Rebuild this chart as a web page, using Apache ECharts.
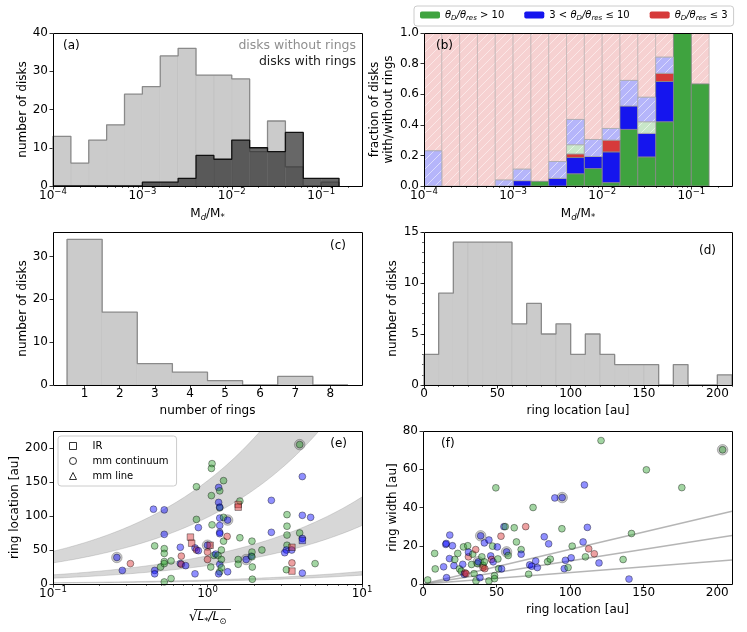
<!DOCTYPE html>
<html><head><meta charset="utf-8">
<script src="https://cdn.jsdelivr.net/npm/echarts@6/dist/echarts.min.js"></script>
<style>html,body{margin:0;padding:0;background:#fff}#c{width:747px;height:632px}</style>
</head><body><div id="c"></div>
<script>
// ================= DATA =================
// (a)/(b): bins in log10(Md/M*) (0.2 dex)
const massBinEdgesLog = [-4,-3.8,-3.6,-3.4,-3.2,-3,-2.8,-2.6,-2.4,-2.2,-2,-1.8,-1.6,-1.4,-1.2,-1,-0.8];
const disksWithoutRings = [13,6,12,16,24,26,34,36,29,29,28,9,17,5,0,1];
const disksWithRings    = [0,0,0,0,0,1,1,2,8,7,12,10,9,14,2,2];
// (b): stacked fractions per bin
const fracGreen      = [0,0,0,0,0,0,0.03,0,0.08,0.114,0.022,0.37,0.19,0.42,1.0,0.667];
const fracBlue       = [0,0,0,0,0,0.035,0,0.05,0.106,0.079,0.201,0.153,0.154,0.263,0,0];
const fracRed        = [0,0,0,0,0,0,0,0,0.024,0,0.077,0,0,0.054,0,0];
const fracGreenFaint = [0,0,0,0,0,0,0,0,0.06,0,0,0,0.076,0,0,0];
const fracBlueFaint  = [0.23,0,0,0,0.039,0.075,0,0.11,0.165,0.111,0.076,0.167,0.16,0.105,0,0];
// (c)
const ringNumbers = [1,2,3,4,5,6,7,8];
const disksPerRingNumber = [34,17,5,3,1,0,2,0];
// (d)
const ringLocEdges = [0,10,20,30,40,50,60,70,80,90,100,110,120,130,140,150,160,170,180,190,200,210];
const ringLocCounts = [3,9,14,14,14,14,6,8,5,6,3,5,3,2,2,2,0,2,0,0,1];
// (e): [sqrt(L*/Lsun), ring location au, tracer colour, marker (c=circle,s=square), highlighted]
const panelE = [
 [0.259,39,'b','c',1],[0.281,20,'b','c',0],[0.317,30,'r','c',0],[0.447,110,'b','c',0],[0.455,56,'g','c',0],
 [0.455,20,'b','c',0],[0.455,15,'b','c',0],[0.497,25,'g','c',0],[0.525,109,'b','c',0],[0.525,73,'b','c',0],
 [0.525,52,'g','c',0],[0.525,45,'g','c',0],[0.525,33,'g','c',0],[0.525,30,'g','c',0],[0.525,3,'g','c',0],
 [0.581,34,'g','c',0],[0.581,8,'g','c',0],[0.667,54,'b','c',0],[0.667,30,'b','c',0],[0.677,41,'r','c',0],
 [0.677,29,'r','c',0],[0.722,27,'b','c',0],[0.83,15,'b','c',0],[0.848,143,'g','c',0],[0.848,95,'g','c',0],
 [0.775,69,'r','s',0],[0.79,60,'r','s',0],[0.83,53,'b','c',0],[0.848,50,'r','c',0],[0.873,49,'b','c',0],
 [0.873,83,'b','c',0],[1.0,57,'b','c',1],[1.0,36,'r','c',0],[1.0,47,'r','c',0],[1.04,57,'r','s',0],
 [1.05,25,'g','c',0],[1.07,177,'g','c',0],[1.06,170,'g','c',0],[1.06,130,'g','c',0],[1.07,87,'g','c',0],
 [1.1,42,'g','c',0],[1.13,44,'b','c',0],[1.17,42,'g','c',0],[1.18,142,'b','c',0],[1.2,137,'g','c',0],
 [1.18,120,'b','c',0],[1.2,112,'g','c',0],[1.2,113,'b','c',0],[1.2,97,'b','c',0],[1.2,86,'b','c',0],
 [1.2,76,'b','c',0],[1.2,74,'b','c',0],[1.23,50,'g','c',0],[1.2,29,'b','c',0],[1.2,18,'g','c',0],
 [1.18,15,'b','c',0],[1.23,24,'g','c',0],[1.23,36,'g','c',0],[1.27,152,'g','c',0],[1.27,98,'g','c',0],
 [1.27,63,'g','c',0],[1.35,94,'b','c',1],[1.34,70,'r','c',0],[1.35,18,'b','c',0],[1.62,122,'g','c',0],
 [1.58,117,'r','s',0],[1.58,113,'r','s',0],[1.62,68,'g','c',0],[1.58,36,'g','c',0],[1.58,29,'g','c',0],
 [1.78,36,'b','c',1],[1.92,41,'b','c',0],[1.94,63,'g','c',0],[1.94,47,'g','c',0],[1.94,40,'g','c',0],
 [1.95,25,'g','c',0],[1.95,7,'g','c',0],[2.25,50,'g','c',0],[2.59,123,'b','c',0],[2.59,76,'b','c',0],
 [3.27,102,'g','c',0],[3.27,85,'g','c',0],[3.27,72,'g','c',0],[3.27,57,'g','c',0],[3.24,50,'b','c',0],
 [3.16,46,'b','c',0],[3.24,21,'g','c',0],[3.52,54,'r','s',0],[3.52,31,'r','c',0],[3.52,19,'r','s',0],
 [3.51,50,'b','c',0],[3.95,205,'g','c',1],[3.95,75,'g','c',0],[4.11,158,'b','c',0],[4.11,101,'b','c',0],
 [4.11,67,'b','c',0],[4.11,64,'b','s',0],[4.11,16,'b','c',0],[4.65,98,'b','c',0],[4.97,30,'g','c',0]
];
// (e) grey bands: edge values at sqrt(L)=0.1 and sqrt(L)=10 [lower, upper]
const bandsAt01 = [[31,48],[8.5,13.5],[1.3,1.9]];
const bandsAt10 = [[310,480],[86,128],[13,18.5]];
// (f): [ring location au, ring width au, tracer colour, highlighted]
const panelF = [
 [3.2,2.1,'g',0],[7.9,16,'g',0],[8.3,7.9,'g',0],[14,9,'b',0],[15.5,20.7,'b',0],[15.8,21.2,'b',0],[16,3.3,'b',0],
 [18,13.3,'b',0],[18.2,25.6,'b',0],[20,20,'b',0],[21,9.6,'b',0],[21.6,12.8,'g',0],[23.6,16,'g',0],[24.8,7.9,'g',0],
 [26,6.7,'g',0],[27,10.3,'b',0],[27.5,19.4,'g',0],[28,5.1,'b',0],[28.6,5.8,'r',0],[29.3,5.4,'r',0],[30.4,20,'g',0],
 [30.9,14.2,'r',0],[30.9,16.6,'b',0],[33,10.2,'g',0],[33.8,15.6,'g',0],[34.7,5.4,'g',0],[35.8,18,'r',0],[36,1.6,'g',0],
 [37,10.7,'g',0],[37.6,11.6,'b',1],[38.7,3.3,'b',0],[39.2,25.2,'b',1],[40,14.2,'g',0],[40.8,9.8,'g',0],[40.8,8.6,'r',0],
 [41.7,21.5,'b',0],[41.7,11.6,'g',0],[42,8,'r',0],[44.8,23,'b',0],[44.8,1.6,'g',0],[46,14.7,'b',0],[46.6,12.8,'r',0],
 [47.3,19.8,'g',0],[47.7,11.6,'b',0],[48.6,4.4,'g',0],[48.6,2.8,'g',0],[49.5,50.3,'g',0],[50.5,19.4,'b',0],[50.9,13.1,'g',0],
 [51.4,8,'g',0],[53,25,'r',0],[53.4,7.9,'b',0],[55,30,'b',0],[55.9,30,'g',0],[56.8,16.8,'b',1],[57.9,14.9,'g',0],
 [62,29.4,'g',0],[63.5,22,'g',0],[66.7,18,'g',0],[66.7,15.6,'b',0],[69.8,30,'r',0],[71.8,5.1,'g',0],[72.5,10,'b',0],
 [73.9,9.3,'b',0],[74.8,40,'g',0],[76.6,12,'b',0],[77.7,8.6,'b',0],[82.4,24.7,'b',0],[84.7,11.7,'g',0],[85.4,21,'b',0],
 [86.5,13,'g',0],[89.6,45,'b',0],[94.4,28.9,'g',0],[94.6,45.2,'b',1],[96,8,'b',0],[96.8,12.4,'b',0],[98.6,8.6,'g',0],
 [100.7,13.7,'b',0],[101.4,19.8,'g',0],[108.8,22,'b',0],[109.7,51.8,'b',0],[110.4,14.2,'g',0],[111.7,29.6,'b',0],
 [112.6,18.4,'r',0],[116.4,15.8,'r',0],[119.6,11,'b',0],[121,75,'g',0],[136,12.8,'g',0],[140,2.6,'b',0],[141.7,26.4,'g',0],
 [151.8,59.7,'g',0],[175.9,50.4,'g',0],[203.6,70.2,'g',1]
];
// (f) reference lines through origin: width at ring location 210 au
const fLineX = 210;
const fLineEndY = [38, 25.3, 12.6];
// tick labels
const massTicks = [-4,-3,-2,-1];
const lumTicks = [-1,0,1];

// ================= HELPERS =================
const FONT = 'DejaVu Sans';
const TICK = 12, LAB = 12;
const G = [
  {left:53, top:33, width:309, height:153},
  {left:424, top:33, width:308, height:153},
  {left:53, top:232, width:309, height:153},
  {left:424, top:232, width:308, height:153},
  {left:53, top:431, width:309, height:153},
  {left:423, top:431, width:309, height:153}
];
const logMinor = (lo, hi) => { const r=[]; for (let n=Math.floor(lo); n<hi; n++) for (let k=2;k<10;k++){const v=n+Math.log10(k); if(v>lo&&v<hi) r.push(v);} return r; };
const range = (a,b,s) => { const r=[]; for(let v=a; v<=b+1e-9; v+=s) r.push(+v.toFixed(6)); return r; };
const fmtLog = v => '{b|10}{s|' + (v<0?'\u2212':'') + Math.abs(Math.round(v)) + '}';
const richLog = {
  b:{fontSize:TICK, fontFamily:FONT, color:'#000', lineHeight:18},
  s:{fontSize:8.5, fontFamily:FONT, color:'#000', verticalAlign:'top', lineHeight:10}
};
const nameStyle = {fontFamily:FONT, fontSize:LAB, color:'#000'};
function xAx(gi, min, max, ticks, opts) {
  opts = opts || {};
  const lab = {show:true, customValues:ticks, color:'#000', fontFamily:FONT, fontSize:TICK, margin:opts.fmt===fmtLog?1:3};
  if (opts.fmt) lab.formatter = opts.fmt;
  if (opts.fmt===fmtLog) lab.rich = richLog;
  return Object.assign({
    gridIndex:gi, type:'value', min, max, position:'bottom',
    axisLine:{show:false, onZero:false}, splitLine:{show:false},
    axisTick:{show:true, customValues:ticks, length:3.5, lineStyle:{color:'#000', width:0.8}},
    axisLabel:lab,
    nameLocation:'middle', nameTextStyle:nameStyle
  }, opts.extra || {});
}
function yAx(gi, min, max, ticks, opts) {
  opts = opts || {};
  const lab = {show:true, customValues:ticks, color:'#000', fontFamily:FONT, fontSize:TICK, margin:5};
  if (opts.fmt) lab.formatter = opts.fmt;
  return Object.assign({
    gridIndex:gi, type:'value', min, max, position:'left',
    axisLine:{show:false, onZero:false}, splitLine:{show:false},
    axisTick:{show:true, customValues:ticks, length:3.5, lineStyle:{color:'#000', width:0.8}},
    axisLabel:lab,
    nameLocation:'middle', nameRotate:90, nameTextStyle:nameStyle
  }, opts.extra || {});
}
function minorX(gi, min, max, ticks) {
  return {gridIndex:gi, type:'value', min, max, position:'bottom', axisLine:{show:false, onZero:false}, splitLine:{show:false},
    axisLabel:{show:false}, axisTick:{show:true, customValues:ticks, length:2, lineStyle:{color:'#000', width:0.6}}};
}
function minorY(gi, min, max, ticks) {
  return {gridIndex:gi, type:'value', min, max, position:'left', axisLine:{show:false, onZero:false}, splitLine:{show:false},
    axisLabel:{show:false}, axisTick:{show:true, customValues:ticks, length:2, lineStyle:{color:'#000', width:0.6}}};
}
function histSeries(xi, yi, edges, counts, fill, z) {
  const data = counts.map((c,i)=>[edges[i], edges[i+1], c]);
  return {type:'custom', xAxisIndex:xi, yAxisIndex:yi, z:z||2, silent:true, clip:true, data,
    renderItem:(p, api)=>{
      const a=api.coord([api.value(0),0]), b=api.coord([api.value(1),api.value(2)]);
      return {type:'rect', shape:{x:a[0], y:b[1], width:b[0]-a[0], height:a[1]-b[1]},
        style:{fill:fill, stroke:'rgba(0,0,0,0.06)', lineWidth:0.8}};
    }};
}
function stepSeries(xi, yi, edges, counts, color, z) {
  const pts=[[edges[0],0]];
  counts.forEach((c,i)=>{pts.push([edges[i],c]); pts.push([edges[i+1],c]);});
  pts.push([edges[edges.length-1],0]);
  return {type:'line', xAxisIndex:xi, yAxisIndex:yi, z:z||3, data:pts, showSymbol:false, symbol:'none', silent:true,
    lineStyle:{color, width:1.3}, clip:true};
}
function hatch(bg, line) {
  const s=9, cv=document.createElement('canvas'); cv.width=s; cv.height=s;
  const c=cv.getContext('2d'); c.fillStyle=bg; c.fillRect(0,0,s,s);
  c.strokeStyle=line; c.lineWidth=1;
  c.beginPath(); c.moveTo(0,s); c.lineTo(s,0); c.moveTo(-2,2); c.lineTo(2,-2); c.moveTo(s-2,s+2); c.lineTo(s+2,s-2); c.stroke();
  return {image:cv, repeat:'repeat'};
}
const COL = {g:'#3fa33f', b:'#1515ee', r:'#d63a3a'};
const PT = {g:'rgba(44,160,44,0.55)', b:'rgba(0,0,255,0.55)', r:'rgba(214,39,40,0.55)'};

// ---- (b) segments ----
const layers = [
  {key:'gt10', vals:fracGreen, fill:COL.g, stroke:'#888'},
  {key:'mid', vals:fracBlue, fill:COL.b, stroke:'#888'},
  {key:'le3', vals:fracRed, fill:COL.r, stroke:'#888'},
  {key:'gf', vals:fracGreenFaint, fill:hatch('#c8e6c8','#e4f3e4'), stroke:'#aaa'},
  {key:'bf', vals:fracBlueFaint, fill:hatch('#b5b5fa','#dcdcfd'), stroke:'#aaa'}
];
const cum = massBinEdgesLog.slice(0,-1).map(()=>0);
const bSeries = [];
layers.forEach(L=>{
  const data=[];
  L.vals.forEach((v,i)=>{ if(v>0){ data.push([massBinEdgesLog[i], massBinEdgesLog[i+1], cum[i], cum[i]+v]); } cum[i]+=v; });
  bSeries.push({name:L.key, type:'custom', xAxisIndex:2, yAxisIndex:1, z:3, silent:true, clip:true, data,
    itemStyle:{color: typeof L.fill==='string'? L.fill : '#ccc'},
    renderItem:(p,api)=>{
      const a=api.coord([api.value(0),api.value(2)]), b=api.coord([api.value(1),api.value(3)]);
      return {type:'rect', shape:{x:a[0], y:b[1], width:b[0]-a[0], height:a[1]-b[1]}, style:{fill:L.fill, stroke:L.stroke, lineWidth:0.8}};
    }});
});
const pinkFill = hatch('#f6d1d1','#fbe7e7');
const pinkData = cum.map((c,i)=>[massBinEdgesLog[i], massBinEdgesLog[i+1], c, 1]).filter(d=>d[2]<0.999);
bSeries.unshift({type:'custom', xAxisIndex:2, yAxisIndex:1, z:2, silent:true, clip:true, data:pinkData,
  renderItem:(p,api)=>{
    const a=api.coord([api.value(0),api.value(2)]), b=api.coord([api.value(1),api.value(3)]);
    return {type:'rect', shape:{x:a[0], y:b[1], width:b[0]-a[0], height:a[1]-b[1]}, style:{fill:pinkFill, stroke:'#c4b8b8', lineWidth:0.8}};
  }});

// ---- (e) bands ----
function bandSeries(k) {
  const lo0=bandsAt01[k][0], hi0=bandsAt01[k][1], lo1=bandsAt10[k][0], hi1=bandsAt10[k][1];
  return {type:'custom', xAxisIndex:7, yAxisIndex:5, z:1, silent:true, clip:true, data:[[lo0,hi0,lo1,hi1]],
    renderItem:(p,api)=>{
      const pl=Math.log10(api.value(2)/api.value(0))/2, ph=Math.log10(api.value(3)/api.value(1))/2;
      const top=[], bot=[];
      for(let i=0;i<=80;i++){ const lx=-1+2*i/80;
        bot.push(api.coord([lx, api.value(0)*Math.pow(10,(lx+1)*pl)]));
        top.push(api.coord([lx, api.value(1)*Math.pow(10,(lx+1)*ph)])); }
      return {type:'polygon', shape:{points: bot.concat(top.reverse())},
        style:{fill:'rgba(150,150,150,0.38)', stroke:'rgba(130,130,130,0.35)', lineWidth:0.8}};
    }};
}
function ptItem(x,y,c){ return {value:[x,y], itemStyle:{color:PT[c]}}; }
const eCirc = panelE.filter(r=>r[3]==='c').map(r=>ptItem(Math.log10(r[0]),r[1],r[2]));
const eSq = panelE.filter(r=>r[3]==='s').map(r=>ptItem(Math.log10(r[0]),r[1],r[2]));
const eHl = panelE.filter(r=>r[4]).map(r=>[Math.log10(r[0]),r[1]]);
const fPts = panelF.map(r=>ptItem(r[0],r[1],r[2]));
const fHl = panelF.filter(r=>r[3]).map(r=>[r[0],r[1]]);
const ptStyle = {borderColor:'rgba(0,0,0,0.6)', borderWidth:0.8};
const hlStyle = {color:'rgba(120,120,120,0.45)', borderColor:'rgba(70,70,70,0.55)', borderWidth:0.8};

// ================= OPTION =================
const mRich = {rich:{m:{fontSize:LAB,fontFamily:FONT,lineHeight:16,color:'#000'},s:{fontSize:8.5,fontFamily:FONT,verticalAlign:'bottom',lineHeight:10,fontStyle:'italic',color:'#000'}}};
const xAxis = [
  xAx(0,-4,-0.543,massTicks,{fmt:fmtLog, extra:{name:'{m|M}{s|d}{m|/M}{s|*}', nameGap:20, nameTextStyle:Object.assign({},nameStyle,mRich)}}),
  minorX(0,-4,-0.543,logMinor(-4,-0.543)),
  xAx(1,-4,-0.543,massTicks,{fmt:fmtLog, extra:{name:'{m|M}{s|d}{m|/M}{s|*}', nameGap:20, nameTextStyle:Object.assign({},nameStyle,mRich)}}),
  minorX(1,-4,-0.543,logMinor(-4,-0.543)),
  xAx(2,0.1,8.9,ringNumbers,{extra:{name:'number of rings', nameGap:20}}),
  xAx(3,0,210,range(0,200,50),{extra:{name:'ring location [au]', nameGap:20}}),
  minorX(3,0,210,range(0,210,10)),
  xAx(4,-1,1,lumTicks,{fmt:fmtLog, extra:{name:'{r|\u221a}{i|L}{s|*}{i|/L}{s|\u2299}', nameGap:24,
     nameTextStyle:Object.assign({},nameStyle,{rich:{r:{fontSize:14,fontFamily:FONT,lineHeight:18,color:'#000'},i:{fontSize:LAB,fontFamily:FONT,fontStyle:'italic',lineHeight:18,color:'#000'},s:{fontSize:8.5,fontFamily:FONT,fontStyle:'italic',verticalAlign:'bottom',lineHeight:11,color:'#000'}}})}}),
  minorX(4,-1,1,logMinor(-1,1)),
  xAx(5,0,210,range(0,200,50),{extra:{name:'ring location [au]', nameGap:20}})
];
const yAxis = [
  yAx(0,0,40,range(0,40,10),{extra:{name:'number of disks', nameGap:24}}),
  yAx(1,0,1,range(0,1,0.2),{fmt:v=>v.toFixed(1), extra:{name:'fraction of disks\nwith/without rings', nameGap:28,
     nameTextStyle:Object.assign({},nameStyle,{lineHeight:14})}}),
  yAx(2,0,35.7,[0,10,20,30],{extra:{name:'number of disks', nameGap:24}}),
  yAx(3,0,15,[0,5,10,15],{extra:{name:'number of disks', nameGap:25}}),
  minorY(3,0,15,range(0,15,1)),
  yAx(4,0,225,range(0,200,50),{extra:{name:'ring location [au]', nameGap:32}}),
  yAx(5,0,80,range(0,80,20),{extra:{name:'ring width [au]', nameGap:24}})
];
const series = [
  histSeries(0,0,massBinEdgesLog,disksWithoutRings,'#cbcbcb',2),
  stepSeries(0,0,massBinEdgesLog,disksWithoutRings,'#8a8a8a',3),
  histSeries(0,0,massBinEdgesLog,disksWithRings,'rgba(45,45,45,0.72)',4),
  stepSeries(0,0,massBinEdgesLog,disksWithRings,'#111',5),
  ...bSeries,
  histSeries(4,2,ringNumbers.map(v=>v-0.5).concat([ringNumbers[ringNumbers.length-1]+0.5]),disksPerRingNumber,'#cbcbcb',2),
  stepSeries(4,2,ringNumbers.map(v=>v-0.5).concat([ringNumbers[ringNumbers.length-1]+0.5]),disksPerRingNumber,'#8a8a8a',3),
  histSeries(5,3,ringLocEdges,ringLocCounts,'#cbcbcb',2),
  stepSeries(5,3,ringLocEdges,ringLocCounts,'#8a8a8a',3),
  bandSeries(0), bandSeries(1), bandSeries(2),
  {type:'scatter', xAxisIndex:7, yAxisIndex:5, z:3, silent:true, data:eHl, symbol:'circle', symbolSize:10.5, itemStyle:hlStyle},
  {name:'mm continuum', type:'scatter', xAxisIndex:7, yAxisIndex:5, z:4, silent:true, data:eCirc, symbol:'circle', symbolSize:6.8, itemStyle:ptStyle},
  {name:'IR', type:'scatter', xAxisIndex:7, yAxisIndex:5, z:4, silent:true, data:eSq, symbol:'rect', symbolSize:6.5, itemStyle:ptStyle},
  {name:'mm line', type:'scatter', xAxisIndex:7, yAxisIndex:5, z:4, silent:true, data:[], symbol:'triangle', symbolSize:6.5, itemStyle:ptStyle},
  ...fLineEndY.map(yv=>({type:'line', xAxisIndex:9, yAxisIndex:6, z:2, silent:true, showSymbol:false, symbol:'none',
     data:[[0,0],[fLineX,yv]], lineStyle:{color:'rgba(150,150,150,0.7)', width:1.5}})),
  {type:'scatter', xAxisIndex:9, yAxisIndex:6, z:3, silent:true, data:fHl, symbol:'circle', symbolSize:10.5, itemStyle:hlStyle},
  {type:'scatter', xAxisIndex:9, yAxisIndex:6, z:4, silent:true, data:fPts, symbol:'circle', symbolSize:6.8, itemStyle:ptStyle}
];
const subRich = {
  n:{fontSize:10, fontFamily:FONT, lineHeight:14, color:'#000'},
  t:{fontSize:10, fontFamily:FONT, fontStyle:'italic', lineHeight:14, color:'#000'},
  s:{fontSize:7, fontFamily:FONT, fontStyle:'italic', verticalAlign:'bottom', lineHeight:9, color:'#000'}
};
const legendLabels = {
  gt10:'{t|\u03b8}{s|D}{t|/\u03b8}{s|res}{n| > 10}',
  mid:'{n|3 < }{t|\u03b8}{s|D}{t|/\u03b8}{s|res}{n| \u2264 10}',
  le3:'{t|\u03b8}{s|D}{t|/\u03b8}{s|res}{n| \u2264 3}'
};
const graphic = [];
G.forEach(g=>graphic.push({type:'rect', z:100, silent:true, shape:{x:g.left+0.5, y:g.top+0.5, width:g.width, height:g.height},
  style:{fill:'none', stroke:'#000', lineWidth:1}}));
const tag = (txt,x,y,align,size)=>({type:'text', z:101, silent:true, x, y, style:{text:txt, fill:'#000', font:(size||12)+'px "DejaVu Sans"', textAlign:align||'left', textVerticalAlign:'middle'}});
graphic.push(tag('(a)',63,46), tag('(b)',436,46), tag('(c)',346,246,'right'), tag('(d)',716,251,'right'), tag('(e)',347,444,'right'), tag('(f)',441,444));
const lgA1 = tag('disks without rings',356,46,'right',12.5); lgA1.style.fill='#8f8f8f';
const lgA2 = tag('disks with rings',356,62,'right',12.5); lgA2.style.fill='#222';
graphic.push(lgA1, lgA2);
// overline of the square root in panel (e) axis title
graphic.push({type:'line', z:101, silent:true, shape:{x1:194, y1:609.5, x2:231, y2:609.5}, style:{stroke:'#000', lineWidth:0.8}});

const option = {
  animation:false, backgroundColor:'#fff',
  grid: G.map(g=>Object.assign({show:false, containLabel:false}, g)),
  xAxis, yAxis, series, graphic,
  legend:[
    {left:414, top:6, orient:'horizontal', data:['gt10','mid','le3'], itemWidth:20, itemHeight:7, itemGap:20,
     borderColor:'#ccc', borderWidth:1, borderRadius:3, padding:[4,6,4,6], selectedMode:false,
     formatter:n=>legendLabels[n], textStyle:{fontFamily:FONT, fontSize:10, rich:subRich}},
    {left:58, top:436, orient:'vertical', data:[{name:'IR',icon:'rect'},{name:'mm continuum',icon:'circle'},{name:'mm line',icon:'triangle'}],
     itemWidth:7, itemHeight:7, itemGap:5, selectedMode:false, borderColor:'#ccc', borderWidth:1, borderRadius:3,
     padding:[5,8,5,11], backgroundColor:'rgba(255,255,255,0.85)',
     itemStyle:{color:'#fff', borderColor:'#000', borderWidth:1},
     textStyle:{fontFamily:FONT, fontSize:10, color:'#000', padding:[0,0,0,11]}}
  ]
};
const chart = echarts.init(document.getElementById('c'));
chart.setOption(option);
</script></body></html>
